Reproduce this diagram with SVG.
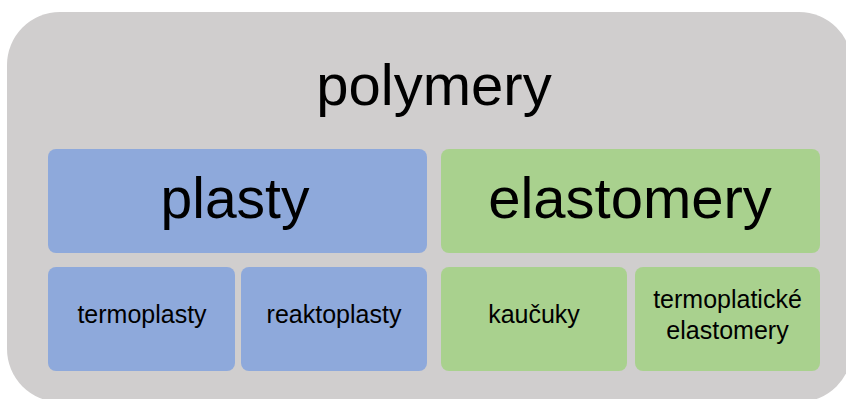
<svg xmlns="http://www.w3.org/2000/svg" width="846" height="399" viewBox="0 0 846 399">
<style>
text{font-family:"Liberation Sans",Arial,sans-serif;fill:#000;text-anchor:middle}
.big{font-size:57px}
.title{font-size:58px}
.small{font-size:25px}
.blue{fill:#8EA9DB}
.green{fill:#A9D18E}
</style>
<rect width="846" height="399" fill="#FFFFFF"/>
<g id="polymery">
<rect x="7" y="12" width="845" height="390" rx="53" ry="53" fill="#D0CECE"/>
<text class="title" x="434" y="105">polymery</text>
</g>
<g id="plasty">
<rect class="blue" x="48" y="149" width="379" height="104" rx="8"/>
<text class="big" x="235" y="218">plasty</text>
</g>
<g id="elastomery">
<rect class="green" x="441" y="149" width="379" height="104" rx="8"/>
<text class="big" x="630" y="218" style="font-size:58px">elastomery</text>
</g>
<g id="termoplasty">
<rect class="blue" x="48" y="267" width="187" height="104" rx="8"/>
<text class="small" x="142" y="323">termoplasty</text>
</g>
<g id="reaktoplasty">
<rect class="blue" x="241" y="267" width="186" height="104" rx="8"/>
<text class="small" x="334" y="323">reaktoplasty</text>
</g>
<g id="kaucuky">
<rect class="green" x="441" y="267" width="186" height="104" rx="8"/>
<text class="small" x="534" y="323">kaučuky</text>
</g>
<g id="termoplasticke">
<rect class="green" x="635" y="267" width="185" height="104" rx="8"/>
<text class="small" x="727.5" y="308">termoplatické</text>
<text class="small" x="727.5" y="339">elastomery</text>
</g>
<g id="connectors"/>
</svg>
